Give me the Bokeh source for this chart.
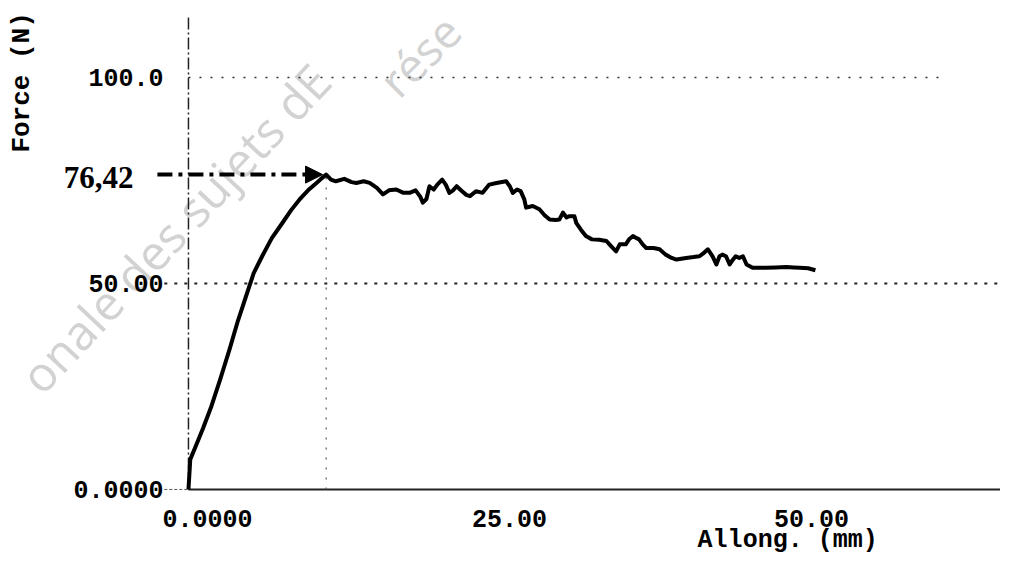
import math
from bokeh.plotting import figure
from bokeh.models import ColumnDataSource, Arrow, NormalHead
from bokeh.core.properties import value
from bokeh.embed import file_html
from bokeh.resources import INLINE

# ---- data ----
elong_mm = [0, 0.15, 0.6, 1.2, 1.9, 2.6, 3.4, 4.1, 4.8, 5.4, 6.1, 6.9, 7.8, 8.5,
            9.2, 9.9, 10.6, 11.1, 11.4, 11.8, 12.2, 12.9, 13.5, 13.9, 14.5, 15.0,
            15.6, 16.1, 16.6, 17.2, 17.8, 18.3, 18.8, 19.2, 19.4, 19.7, 19.95,
            20.3, 20.6, 21.0, 21.3, 21.6, 21.9, 22.2, 22.6, 23.0, 23.3, 23.8,
            24.35, 24.9, 25.5, 26.3, 26.6, 26.85, 27.2, 27.5, 27.8, 27.95, 28.5,
            29.05, 29.5, 29.9, 30.4, 30.7, 31.0, 31.3, 31.5, 31.95, 32.1, 32.5,
            32.9, 33.4, 34.0, 34.6, 35.0, 35.4, 35.7, 36.2, 36.5, 36.8, 37.1,
            37.3, 37.6, 37.9, 38.5, 39.0, 39.5, 40.0, 40.4, 40.8, 41.2, 41.8,
            42.3, 42.7, 43.0, 43.4, 43.7, 43.96, 44.2, 44.5, 44.8, 45.0, 45.3,
            45.6, 45.9, 46.2, 46.7, 47.3, 47.8, 48.6, 49.5, 50.1, 50.6, 51.3, 51.9]
force_n = [0, 7.3, 10.5, 14.8, 20.2, 26.5, 34.0, 41.0, 47.2, 52.5, 56.6, 61.0, 64.8, 67.8,
           70.4, 72.6, 74.4, 75.7, 76.42, 75.2, 74.8, 75.4, 74.6, 74.4, 74.8, 74.4,
           73.2, 71.6, 72.6, 72.8, 72.0, 72.0, 72.6, 71.0, 69.6, 70.5, 73.6,
           72.8, 74.0, 75.2, 74.0, 72.0, 72.6, 73.6, 72.5, 71.5, 71.2, 72.4,
           72.0, 74.0, 74.4, 74.8, 73.6, 72.0, 72.8, 72.4, 70.4, 68.4, 68.8,
           68.0, 66.5, 65.5, 65.4, 65.5, 67.2, 66.0, 66.3, 66.3, 64.7, 63.0,
           61.5, 60.7, 60.6, 60.3, 59.0, 57.8, 59.5, 59.5, 60.8, 61.5, 61.0,
           60.7, 59.5, 58.6, 58.6, 58.3, 57.0, 56.2, 55.8, 56.0, 56.2, 56.4,
           56.6, 57.5, 58.3, 56.5, 54.6, 56.6, 57.0, 56.6, 54.6, 55.5, 56.6,
           56.2, 56.6, 54.6, 53.8, 53.8, 53.8, 53.9, 54.0, 53.9, 53.8, 53.7, 53.2]

x_ticks = [0, 25, 50]
x_tick_labels = ["0.0000", "25.00", "50.00"]
y_ticks = [0, 50, 100]
y_tick_labels = ["0.0000", "50.00", "100.0"]
peak_label = "76,42"
x_title = "Allong. (mm)"
y_title = "Force (N)"
watermark_1 = "onale des sujets dE"
watermark_2 = "rése"

# ---- figure ----
W, H = 1000, 554
X0 = -15.56
X1 = X0 + W / 12.08
Y1 = 118.68
Y0 = Y1 - H / 4.12
p = figure(width=W, height=H, x_range=(X0, X1), y_range=(Y0, Y1),
           output_backend="svg", toolbar_location=None, min_border=0)
p.xaxis.visible = False
p.yaxis.visible = False
p.grid.visible = False
p.outline_line_color = None
p.background_fill_color = "white"

mono = value("Liberation Mono")

# watermark
p.text(x=[-13.2], y=[25.5], text=[watermark_1], angle=0.82,
       text_font=value("Open Sans"), text_font_size="48px", text_color="#d2d2d2",
       text_align="left", text_baseline="alphabetic")
p.text(x=[16.4], y=[97.5], text=[watermark_2], angle=0.785,
       text_font=value("Open Sans"), text_font_size="46px", text_color="#d2d2d2",
       text_align="left", text_baseline="alphabetic")

# grid lines
p.segment(x0=[0], y0=[100], x1=[62.6], y1=[100], line_color="#333333",
          line_width=1.5, line_dash="2 9")
p.segment(x0=[-2.0], y0=[50], x1=[X1], y1=[50], line_color="#222222",
          line_width=2, line_dash="3 7")
# x axis line
p.segment(x0=[0], y0=[0], x1=[X1], y1=[0], line_color="#222222", line_width=2)
p.segment(x0=[-2.0], y0=[0], x1=[0], y1=[0], line_color="#555555", line_width=1,
          line_dash="3 2")
# y axis line (dash-dot)
p.segment(x0=[0], y0=[0], x1=[0], y1=[115.3], line_color="#222222",
          line_width=1.5, line_dash="12 3 2 3")

# peak location
i_peak = force_n.index(max(force_n))
px, py = elong_mm[i_peak], force_n[i_peak]
p.segment(x0=[px], y0=[0], x1=[px], y1=[py], line_color="#555555",
          line_width=1.2, line_dash="2 8")

# curve
p.line(elong_mm, force_n, line_color="black", line_width=4, line_join="round")

# arrow to peak
p.add_layout(Arrow(x_start=-2.57, y_start=py, x_end=px - 0.3, y_end=py,
                   line_color="black", line_width=4, line_dash="15 6 4 6",
                   end=NormalHead(size=17, fill_color="black", line_color="black",
                                  line_width=1)))

# tick labels
src_y = ColumnDataSource(dict(x=[0] * len(y_ticks), y=y_ticks, t=y_tick_labels))
p.text(x="x", y="y", text="t", source=src_y, text_font=mono, text_font_style="bold",
       text_font_size="25px", text_align="right", text_baseline="middle",
       x_offset=-25, text_color="black")
src_x = ColumnDataSource(dict(x=x_ticks, y=[0] * len(x_ticks), t=x_tick_labels))
p.text(x="x", y="y", text="t", source=src_x, text_font=mono, text_font_style="bold",
       text_font_size="25px", text_align="center", text_baseline="middle",
       x_offset=19, y_offset=29, text_color="black")

# peak value label
p.text(x=[0], y=[py], text=[peak_label], text_font=value("Liberation Serif"),
       text_font_style="bold", text_font_size="31px", text_align="right",
       text_baseline="middle", x_offset=-55, y_offset=3, text_color="black")

# axis titles
p.text(x=[49.6], y=[0], text=[x_title], text_font=mono, text_font_style="bold",
       text_font_size="25px", text_align="center", text_baseline="middle",
       y_offset=51, text_color="black")
p.text(x=[-13.74], y=[98.8], text=[y_title], text_font=mono, text_font_style="bold",
       text_font_size="26px", text_align="center", text_baseline="middle",
       angle=math.pi / 2, text_color="black")

open("out.html", "w").write(file_html(p, INLINE))
